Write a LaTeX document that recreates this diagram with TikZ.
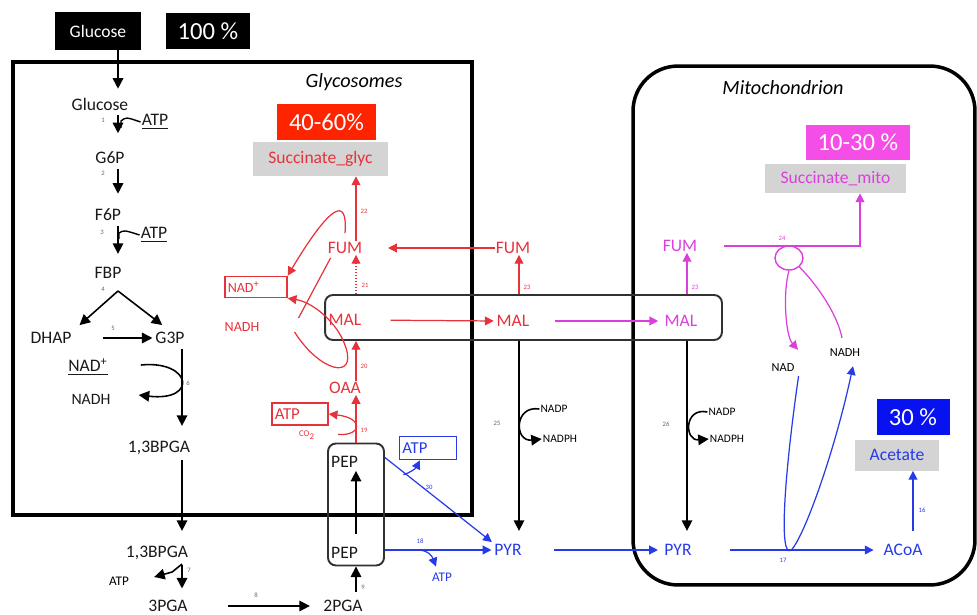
\documentclass[tikz,border=0pt]{standalone}
\usepackage{fontspec}
\setmainfont{Carlito}
\usetikzlibrary{positioning, arrows.meta, calc, shapes.geometric}

\definecolor{glycred}{RGB}{230,50,58}
\definecolor{mitomag}{RGB}{220,62,222}
\definecolor{cytblue}{RGB}{38,58,232}
\definecolor{redfill}{RGB}{255,36,0}
\definecolor{magfill}{RGB}{244,78,230}
\definecolor{bluefill}{RGB}{8,18,240}
\definecolor{prodgray}{RGB}{212,212,212}
\definecolor{framegray}{RGB}{50,50,50}

\begin{document}
\begin{tikzpicture}[
  x=0.02cm, y=-0.02cm,
  % Text styles
  met/.style={font=\fontsize{10}{11}\selectfont, inner sep=0.5pt, text=black!90},
  cof/.style={font=\fontsize{7}{8}\selectfont, inner sep=0.5pt},
  stepno/.style={font=\fontsize{3.8}{4}\selectfont, inner sep=0pt, text=black!60},
  comptitle/.style={font=\fontsize{11.5}{13}\selectfont\itshape},
  % Box styles
  pctbox/.style={rectangle, font=\fontsize{14}{15}\selectfont, text=white, inner sep=0pt},
  prodbox/.style={rectangle, fill=prodgray, font=\fontsize{10}{11}\selectfont, inner sep=0pt},
  cofbox/.style={rectangle, draw, line width=0.9pt, font=\fontsize{9.5}{10}\selectfont, inner xsep=1.5pt, inner ysep=0pt, align=left},
  transbox/.style={rectangle, draw=framegray, rounded corners=4.5pt, line width=1.1pt, inner sep=0pt},
  compart/.style={rectangle, draw, line width=2pt, inner sep=0pt},
  % Arrow styles
  arr/.style={draw, -{Triangle[length=6pt, width=6pt]}, line width=0.9pt},
  gly/.style={arr, shorten <=2pt, shorten >=8pt},
  carr/.style={draw, -{Triangle[length=5pt, width=5pt]}, line width=0.7pt},
  cline/.style={draw, line width=0.7pt}
]
  \useasboundingbox (0,0) rectangle (977,615);

  % ==========================================
  % COMPARTMENTS
  % ==========================================
  \node[compart, minimum width=9.18cm, minimum height=9.06cm] (glyco) at (242.5,288.5) {};
  \node[compart, rounded corners=0.9cm, minimum width=6.84cm, minimum height=10.38cm] (mito) at (804,325.5) {};
  \node[comptitle] (glycotitle) at (354,82) {Glycosomes};
  \node[comptitle] (mitotitle) at (783,88) {Mitochondrion};

  % transporter boxes
  \node[transbox, minimum width=1.12cm, minimum height=2.44cm] (pepbox) at (356,504.5) {};
  \node[transbox, minimum width=7.94cm, minimum height=0.9cm] (malbox) at (523.5,317.5) {};

  % arrow columns
  \coordinate (colA) at (118,0);
  \coordinate (colB) at (182,0);
  \coordinate (colP) at (356,0);
  \coordinate (colC) at (519,0);
  \coordinate (colM) at (687,0);
  \coordinate (colS) at (860,0);
  \coordinate (colAc) at (913,0);

  % ==========================================
  % INPUT AND GLYCOLYSIS
  % ==========================================
  \node[pctbox, fill=black, minimum width=1.74cm, minimum height=0.76cm, font=\fontsize{10}{11}\selectfont] (glcbox) at (98,31) {Glucose};
  \node[pctbox, fill=black, minimum width=1.68cm, minimum height=0.72cm] (pct100) at (208,31) {100 \%};

  \node[met] (glc) at (100,104) {Glucose};
  \node[met] (g6p) at (110,158) {G6P};
  \node[met] (f6p) at (108,215) {F6P};
  \node[met] (fbp) at (108,273) {FBP};
  \node[met] (dhap) at (51,338) {DHAP};
  \node[met] (g3p) at (170,338) {G3P};
  \node[met] (nadA) at (88,367) {\underline{NAD\textsuperscript{+}}};
  \node[met, font=\fontsize{9}{10}\selectfont] (nadhA) at (91,399) {NADH};
  \node[met] (bpgaA) at (159,448) {1,3BPGA};
  \node[met] (bpgaB) at (157,553) {1,3BPGA};
  \node[cof, font=\fontsize{7.5}{8}\selectfont] (atp7) at (119,581) {ATP};
  \node[met] (pga3) at (168,606) {3PGA};
  \node[met] (pga2) at (343,606) {2PGA};
  \node[met] (atp1) at (155,122) {\underline{ATP}};
  \node[met] (atp3) at (154,235) {\underline{ATP}};
  \node[met, anchor=west] (pepA) at (330,462) {PEP};
  \node[met, anchor=west] (pepB) at (330,553) {PEP};

  \draw[arr, shorten >=4.5pt] (glcbox.south -| colA) -- (glc.north -| colA);
  \draw[gly, shorten >=10pt] (glc.south -| colA) -- (g6p.north -| colA);
  \draw[cline, line width=0.8pt] (atp1.west) .. controls (126,117) .. (121,121) -- (121,128);
  \draw[gly] (g6p.south -| colA) -- (f6p.north -| colA);
  \draw[gly, shorten >=7pt] (f6p.south -| colA) -- (fbp.north -| colA);
  \draw[cline, line width=0.8pt] (atp3.west) .. controls (124,230) .. (119,233) -- (119,239);

  \coordinate (fork) at (118,291);
  \draw[arr] (fork) -- ($(fork)!0.85!(dhap.north east)$);
  \draw[arr] (fork) -- ($(fork)!0.85!(g3p.north)$);
  \draw[arr, shorten <=17pt, shorten >=1pt] (dhap.east) -- (g3p.west);

  \draw[gly] (g3p.south -| colB) -- (bpgaA.north -| colB);
  \draw[arr] ($(nadA.east)+(32,-2)$) .. controls (192,360) and (198,402) .. ($(nadhA.east)+(27,-4)$);
  \draw[gly] (bpgaA.south -| colB) -- (bpgaB.north -| colB);
  \draw[gly, shorten >=6pt] (bpgaB.south -| colB) -- (pga3.north -| colB);
  \draw[arr] ($(bpgaB.south -| colB)+(0,3)$) -- ($(atp7.east)+(42,-9)$) -- ($(atp7.east)+(24,-4)$);
  \draw[arr, shorten <=22pt, shorten >=7pt] (pga3.east) -- (pga2.west);
  \draw[arr, shorten <=4pt] (pga2.north -| colP) -- (pepbox.south);
  \draw[arr] ($(pepB.north -| colP)+(0,-12)$) -- ($(pepA.south -| colP)+(0,2)$);

  % step numbers
  \node[stepno] (s1) at (103,120) {1};
  \node[stepno] (s2) at (103,173) {2};
  \node[stepno] (s3) at (102,232) {3};
  \node[stepno] (s4) at (103,289) {4};
  \node[stepno] (s5) at (113,328) {5};
  \node[stepno] (s6) at (188,383) {6};
  \node[stepno] (s7) at (189,570) {7};
  \node[stepno] (s8) at (256,595) {8};
  \node[stepno] (s9) at (363,587) {9};
  \node[stepno] (s25) at (497,423) {25};
  \node[stepno] (s26) at (666,424) {26};

  % ==========================================
  % GLYCOSOMAL SUCCINATE BRANCH (red)
  % ==========================================
  \node[pctbox, fill=redfill, minimum width=1.98cm, minimum height=0.72cm] (pct4060) at (326.5,122) {40-60\%};
  \node[prodbox, text=glycred, minimum width=2.7cm, minimum height=0.68cm] (sucglyc) at (320.5,159) {Succinate\_glyc};

  \node[met, text=glycred] (fumG) at (345,248) {FUM};
  \node[met, text=glycred] (malG) at (345,320) {MAL};
  \node[met, text=glycred] (oaa) at (345,388) {OAA};
  \node[cofbox, draw=glycred, text=glycred, text width=1.01cm, minimum height=0.44cm] (atpR) at (300,414) {ATP};
  \node[cofbox, draw=glycred, text=glycred, text width=1.13cm, minimum height=0.42cm, font=\fontsize{8}{9}\selectfont] (nadR) at (256,287) {NAD\textsuperscript{+}};
  \node[cof, text=glycred, font=\fontsize{8}{9}\selectfont] (nadhR) at (242,327) {NADH};
  \node[stepno, text=glycred, font=\fontsize{5}{5}\selectfont] (co2) at (307,435) {CO\textsubscript{2}};
  \node[met, text=glycred] (fumC) at (513,248) {FUM};
  \node[met, text=glycred] (malC) at (513,321) {MAL};

  \draw[carr, glycred] (pepbox.north) -- (oaa.south -| colP);
  \draw[carr, glycred] ($(pepbox.north)+(-18,-8)$) .. controls (362,436) and (364,418) .. (atpR.east);
  \draw[carr, glycred] (oaa.north -| colP) -- (malbox.south -| colP);
  \draw[carr, glycred, densely dotted] (malbox.north -| colP) -- (fumG.south -| colP);
  \draw[carr, glycred] (fumG.north -| colP) -- (sucglyc.south -| colP);
  \draw[carr, glycred] ($(fumG.north)+(0,-8)$) .. controls (348,195) and (330,205) .. (nadR.north east);
  \draw[cline, glycred] ($(fumG.south west)+(4,3)$) -- ($(nadhR.east)+(38,-9)$);
  \draw[carr, glycred] ($(nadhR.east)+(34,5)$) .. controls (320,372) and (356,380) .. (346,348) .. controls (338,322) and (312,302) .. (nadR.south east);

  \draw[carr, glycred, shorten >=14pt] (fumC.west) -- (fumG.east);
  \draw[carr, glycred, shorten <=16pt, shorten >=1pt] (malG.east) -- (malC.west);
  \draw[carr, glycred] (malbox.north -| colC) -- (fumC.south -| colC);

  \node[stepno, text=glycred] (s19) at (364,430) {19};
  \node[stepno, text=glycred] (s20) at (364,366) {20};
  \node[stepno, text=glycred] (s21) at (365,285) {21};
  \node[stepno, text=glycred] (s22) at (364,211) {22};
  \node[stepno, text=glycred] (s23c) at (527,287) {23};

  % ==========================================
  % PYRUVATE BRANCH (blue) AND MALIC ENZYME
  % ==========================================
  \node[met, text=cytblue] (pyrC) at (508,550) {PYR};
  \node[met, text=cytblue] (pyrM) at (678,550) {PYR};
  \node[met, text=cytblue] (acoa) at (903,550) {ACoA};
  \node[cofbox, draw=cytblue, text=cytblue, text width=1.03cm, minimum height=0.46cm] (atpB) at (428,448) {ATP};
  \node[cof, text=cytblue, font=\fontsize{7.5}{8}\selectfont] (atpB2) at (442,577) {ATP};
  \node[cof, font=\fontsize{6.5}{7}\selectfont] (nadp25) at (554,409) {NADP};
  \node[cof, font=\fontsize{6.5}{7}\selectfont] (nadph25) at (560,439) {NADPH};
  \node[cof, font=\fontsize{6.5}{7}\selectfont] (nadp26) at (722,412) {NADP};
  \node[cof, font=\fontsize{6.5}{7}\selectfont] (nadph26) at (727,439) {NADPH};

  \draw[carr, cytblue, shorten >=1pt] ($(pepbox.north east)+(0,15)$) -- (pyrC.north west);
  \draw[carr, cytblue] ($(pepbox.north east)!0.17!(pyrC.north west)+(0,15)$) .. controls (410,473) and (416,468) .. ($(atpB.south)+(-8,0)$);
  \draw[carr, cytblue, shorten >=1pt] (pepbox.east |- pyrC.west) -- (pyrC.west);
  \draw[carr, cytblue] ($(pepbox.east |- pyrC.west)!0.3!(pyrC.west)$) .. controls (428,550) and (432,556) .. ($(atpB2.north)+(-6,-5)$);
  \draw[carr, cytblue, shorten <=18pt, shorten >=3pt] (pyrC.east) -- (pyrM.west);

  \draw[arr, shorten >=7pt] (malbox.south -| colC) -- (pyrC.north -| colC);
  \draw[arr] (nadp25.west) .. controls (514,405) and (514,442) .. (nadph25.west);

  \node[stepno, text=cytblue] (s30) at (429,487) {30};
  \node[stepno, text=cytblue] (s18) at (420,541) {18};

  % ==========================================
  % MITOCHONDRION (magenta / blue)
  % ==========================================
  \node[pctbox, fill=magfill, minimum width=2.08cm, minimum height=0.7cm] (pct1030) at (858,142.5) {10-30 \%};
  \node[prodbox, text=mitomag, minimum width=2.82cm, minimum height=0.58cm] (sucmito) at (835.5,178.5) {Succinate\_mito};
  \node[pctbox, fill=bluefill, minimum width=1.46cm, minimum height=0.72cm] (pct30) at (913,417) {30 \%};
  \node[prodbox, text=cytblue, minimum width=1.68cm, minimum height=0.62cm] (acetate) at (897,455) {Acetate};

  \node[met, text=mitomag] (fumM) at (680,246) {FUM};
  \node[met, text=mitomag] (malM) at (681,321) {MAL};
  \node[cof] (nadM) at (783,368) {NAD};
  \node[cof] (nadhM) at (845,353) {NADH};
  \node[draw=mitomag, ellipse, line width=0.8pt, minimum width=0.56cm, minimum height=0.48cm, inner sep=0pt] (loop24) at (789,258) {};

  \draw[carr, mitomag, shorten <=14pt, shorten >=3pt] (malC.east) -- (malM.west);
  \draw[carr, mitomag] (malbox.north -| colM) -- (fumM.south -| colM);
  \draw[carr, mitomag, shorten <=14.5pt] (fumM.east) -| (sucmito.south -| colS);
  \draw[carr, mitomag] (loop24.south) .. controls (783,290) and (785,335) .. ($(nadM.north)+(15,-13)$);
  \draw[cline, mitomag] (loop24.south east) .. controls (822,290) and (838,318) .. ($(nadhM.north)+(-3,-10)$);

  \draw[arr, shorten >=7pt] (malbox.south -| colM) -- (pyrM.north -| colM);
  \draw[arr] (nadp26.west) .. controls (684,407) and (684,441) .. (nadph26.west);

  \draw[carr, cytblue, shorten <=21pt, shorten >=5pt] (pyrM.east) -- (acoa.west);
  \draw[carr, cytblue] ($(nadM.south east)+(3,3)$) .. controls (785,470) and (778,560) .. ($(pyrM.east)!0.52!(acoa.west)$) .. controls (805,535) and (835,450) .. ($(nadhM.south)+(8,8)$);
  \draw[carr, cytblue, shorten <=7pt] (acoa.north -| colAc) -- (acetate.south -| colAc);

  \node[stepno, text=mitomag] (s23m) at (695,287) {23};
  \node[stepno, text=mitomag] (s24) at (782,238) {24};
  \node[stepno, text=cytblue] (s17) at (783,560) {17};
  \node[stepno, text=cytblue] (s16) at (922,510) {16};

\end{tikzpicture}
\end{document}
